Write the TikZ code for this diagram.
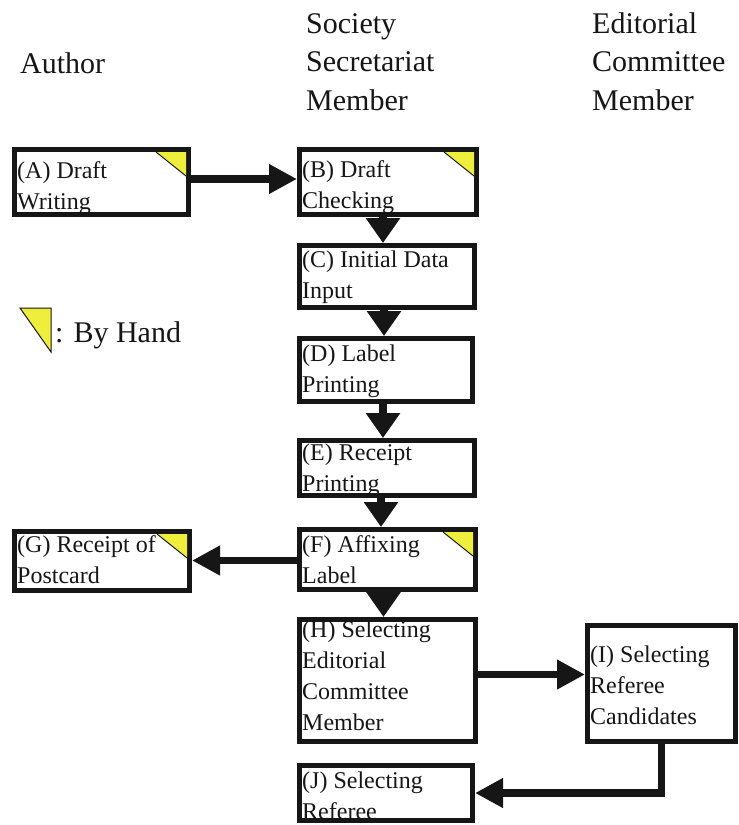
\documentclass[tikz,border=0pt]{standalone}
\usepackage{fontspec}
\setmainfont{Liberation Serif}
\usetikzlibrary{arrows.meta}
\definecolor{hy}{RGB}{240,238,60}
\definecolor{ink}{RGB}{22,22,22}
\begin{document}
\begin{tikzpicture}[x=1pt,y=-1pt,
  box/.style={draw=ink, line width=5pt, inner sep=0pt, outer sep=2.5pt},
  txt/.style={anchor=north west, inner sep=0pt, align=left, text=ink, font=\fontsize{24}{31}\selectfont},
  head/.style={anchor=north west, inner sep=0pt, align=left, text=ink, font=\fontsize{30}{38.5}\selectfont},
  conn/.style={draw=ink, line width=7.5pt, -{Triangle[length=28pt,width=28pt]}},
  vconn/.style={draw=ink, line width=7.5pt, -{Triangle[length=25pt,width=33pt]}},
  hand/.style={fill=hy},
  handedge/.style={draw=ink, line width=1pt}
]
\useasboundingbox[fill=white] (0,0) rectangle (739,825);

% headers
\node[head, anchor=base west] (hA) at (20,73) {Author};
\node[head] (hS) at (306,6) {\strut Society\\Secretariat\\Member};
\node[head] (hE) at (592,6) {\strut Editorial\\Committee\\Member};

% boxes
\node[box, minimum width=174pt, minimum height=65pt] (A) at (101.5,182) {};
\node[box, minimum width=177pt, minimum height=65pt] (B) at (388,182) {};
\node[box, minimum width=175pt, minimum height=62pt] (C) at (387,276.5) {};
\node[box, minimum width=173pt, minimum height=63pt] (D) at (386,370) {};
\node[box, minimum width=175pt, minimum height=55pt] (E) at (387,468) {};
\node[box, minimum width=176pt, minimum height=60pt] (F) at (387.5,559.5) {};
\node[box, minimum width=175pt, minimum height=59pt] (G) at (102,561) {};
\node[box, minimum width=176pt, minimum height=122pt] (H) at (387.5,680.5) {};
\node[box, minimum width=148pt, minimum height=116pt] (I) at (661.5,683.5) {};
\node[box, minimum width=173pt, minimum height=55pt] (J) at (386,793) {};

% hand marks
\foreach \b in {A,B,F,G}{
  \fill[hand] ([xshift=-35pt,yshift=-5pt]\b.north east) -- ([xshift=-5pt,yshift=-5pt]\b.north east) -- ([xshift=-5pt,yshift=-29pt]\b.north east) -- cycle;
  \draw[handedge] ([xshift=-35pt,yshift=-5pt]\b.north east) -- ([xshift=-5pt,yshift=-29pt]\b.north east);
}

% box texts
\node[txt] (tA) at (17,157) {\strut (A) Draft\\Writing};
\node[txt] (tB) at (302,156) {\strut (B) Draft\\Checking};
\node[txt] (tC) at (302,246) {\strut (C) Initial Data\\Input};
\node[txt] (tD) at (302,340) {\strut (D) Label\\Printing};
\node[txt] (tE) at (302,439) {\strut (E) Receipt\\Printing};
\node[txt] (tF) at (302,531) {\strut (F) Affixing\\Label};
\node[txt] (tG) at (17,531) {\strut (G) Receipt of\\Postcard};
\node[txt] (tH) at (302,616) {\strut (H) Selecting\\Editorial\\Committee\\Member};
\node[txt] (tI) at (590,641) {\strut (I) Selecting\\Referee\\Candidates};
\node[txt] (tJ) at (302,767) {\strut (J) Selecting\\Referee};

% legend
\filldraw[fill=hy, draw=ink, line width=1pt] (20,308) -- (51,308) -- (51,352) -- cycle;
\node[head, anchor=base west] (leg) at (55,342) {: By Hand};

% connectors
\draw[conn] ([yshift=3pt]A.east) -- ([yshift=3pt]A.east -| B.west);
\draw[vconn] ([xshift=-5pt]B.south) -- ([xshift=-5pt]B.south |- C.north);
\draw[vconn] ([xshift=-3pt]C.south) -- ([xshift=-3pt]C.south |- D.north);
\draw[vconn] ([xshift=-3pt]D.south) -- ([xshift=-3pt]D.south |- E.north);
\draw[vconn] ([xshift=-6pt]E.south) -- ([xshift=-6pt]E.south |- F.north);
\draw[vconn] ([xshift=-4pt]F.south) -- ([xshift=-4pt]F.south |- H.north);
\draw[conn] ([yshift=-1pt]F.west) -- ([yshift=-1pt]F.west -| G.east);
\draw[conn] ([yshift=6pt]H.east) -- ([yshift=6pt]H.east -| I.west);
\draw[conn] (I.south) |- (J.east);
\end{tikzpicture}
\end{document}
